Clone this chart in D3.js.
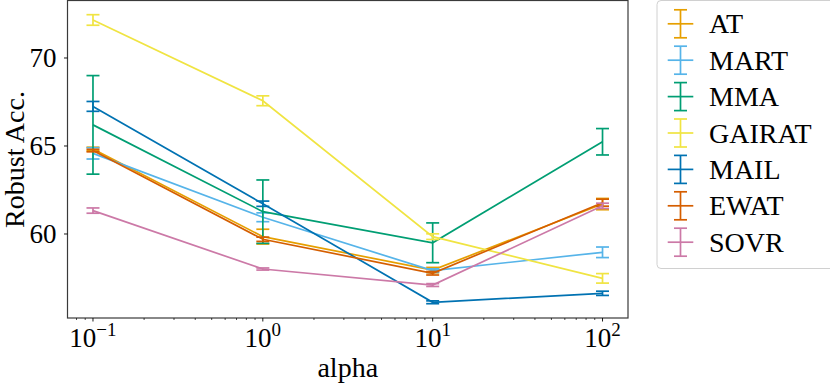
<!DOCTYPE html>
<html>
<head>
<meta charset="utf-8">
<script src="https://cdn.jsdelivr.net/npm/d3@7"></script>
<style>
  body { margin: 0; background: #fff; }
  text { font-family: "Liberation Serif", "DejaVu Serif", serif; fill: #000; }
</style>
</head>
<body>
<svg id="chart"></svg>
<script>
const alphas = [0.1, 1, 10, 100];
const methods = ["AT", "MART", "MMA", "GAIRAT", "MAIL", "EWAT", "SOVR"];
const colors = ["#E69F00", "#56B4E9", "#009E73", "#F0E442", "#0072B2", "#D55E00", "#CC79A7"];

const atMean = [64.83, 59.85, 57.95, 61.7];
const atErr = [0.1, 0.42, 0.15, 0.32];
const martMean = [64.58, 60.95, 57.92, 58.96];
const martErr = [0.32, 0.25, 0.1, 0.3];
const mmaMean = [66.2, 61.27, 59.5, 65.24];
const mmaErr = [2.8, 1.8, 1.13, 0.75];
const gairatMean = [72.16, 67.57, 59.85, 57.48];
const gairatErr = [0.3, 0.28, 0.16, 0.27];
const mailMean = [67.25, 61.72, 56.12, 56.63];
const mailErr = [0.28, 0.15, 0.08, 0.12];
const ewatMean = [64.74, 59.7, 57.77, 61.78];
const ewatErr = [0.07, 0.12, 0.1, 0.2];
const sovrMean = [61.33, 58.01, 57.1, 61.6];
const sovrErr = [0.15, 0.06, 0.08, 0.15];

const yTicks = [60, 65, 70];
const xTicks = [0.1, 1, 10, 100];

const means = [atMean, martMean, mmaMean, gairatMean, mailMean, ewatMean, sovrMean];
const errs = [atErr, martErr, mmaErr, gairatErr, mailErr, ewatErr, sovrErr];

const series = methods.map((m, i) => ({
  name: m,
  color: colors[i],
  points: alphas.map((a, j) => ({ a, v: means[i][j], e: errs[i][j] }))
}));

const width = 830, height = 386;
const plot = { left: 67.5, right: 628, top: 0.5, bottom: 318 };

const svg = d3.select("#chart").attr("width", width).attr("height", height);

const x = d3.scaleLog()
  .domain([Math.pow(10, -1.15), Math.pow(10, 2.15)])
  .range([plot.left, plot.right]);

const y = d3.scaleLinear()
  .domain([55.227, 73.295])
  .range([plot.bottom, 0]);

// series, drawn in legend order so later ones sit on top
const capW = 6.5;
series.forEach(s => {
  const g = svg.append("g");
  g.append("path")
    .datum(s.points)
    .attr("fill", "none")
    .attr("stroke", s.color)
    .attr("stroke-width", 1.7)
    .attr("d", d3.line().x(d => x(d.a)).y(d => y(d.v)));

  const eb = g.selectAll(".eb").data(s.points).join("g")
    .attr("stroke", s.color)
    .attr("stroke-width", 1.7);
  eb.append("line")
    .attr("x1", d => x(d.a)).attr("x2", d => x(d.a))
    .attr("y1", d => y(d.v - d.e)).attr("y2", d => y(d.v + d.e));
  eb.append("line")
    .attr("x1", d => x(d.a) - capW).attr("x2", d => x(d.a) + capW)
    .attr("y1", d => y(d.v - d.e)).attr("y2", d => y(d.v - d.e));
  eb.append("line")
    .attr("x1", d => x(d.a) - capW).attr("x2", d => x(d.a) + capW)
    .attr("y1", d => y(d.v + d.e)).attr("y2", d => y(d.v + d.e));
});

// frame
svg.append("rect")
  .attr("x", plot.left).attr("y", plot.top)
  .attr("width", plot.right - plot.left).attr("height", plot.bottom - plot.top)
  .attr("fill", "none").attr("stroke", "#3a3a3a").attr("stroke-width", 1.2);

// y axis ticks + labels
yTicks.forEach(t => {
  svg.append("line")
    .attr("x1", plot.left - 3.5).attr("x2", plot.left)
    .attr("y1", y(t)).attr("y2", y(t))
    .attr("stroke", "#000").attr("stroke-width", 0.9);
  svg.append("text")
    .attr("x", plot.left - 11).attr("y", y(t))
    .attr("dy", "0.34em")
    .attr("text-anchor", "end")
    .attr("font-size", 27)
    .text(t);
});

// x axis minor ticks (log 2..9)
const minors = [];
[-2, -1, 0, 1, 2].forEach(k => {
  for (let m = 2; m <= 9; m++) {
    const v = m * Math.pow(10, k);
    const px = x(v);
    if (px >= plot.left && px <= plot.right) minors.push(v);
  }
});
svg.selectAll(".minor").data(minors).join("line")
  .attr("x1", d => x(d)).attr("x2", d => x(d))
  .attr("y1", plot.bottom).attr("y2", plot.bottom + 2)
  .attr("stroke", "#000").attr("stroke-width", 0.7);

xTicks.forEach(t => {
  const px = x(t);
  svg.append("line")
    .attr("x1", px).attr("x2", px)
    .attr("y1", plot.bottom).attr("y2", plot.bottom + 3.5)
    .attr("stroke", "#000").attr("stroke-width", 0.9);
  const exp = Math.round(Math.log10(t));
  const txt = svg.append("text")
    .attr("x", px).attr("y", 347)
    .attr("text-anchor", "middle")
    .attr("font-size", 27);
  txt.append("tspan").text("10");
  txt.append("tspan")
    .attr("dy", -11)
    .attr("font-size", 19)
    .text(exp < 0 ? "\u2212" + Math.abs(exp) : exp);
});

// axis labels
svg.append("text")
  .attr("x", (plot.left + plot.right) / 2).attr("y", 377)
  .attr("text-anchor", "middle")
  .attr("font-size", 28)
  .text("alpha");

svg.append("text")
  .attr("transform", "translate(24,159.5) rotate(-90)")
  .attr("text-anchor", "middle")
  .attr("font-size", 28)
  .text("Robust Acc.");

// legend
const legend = svg.append("g");
legend.append("rect")
  .attr("x", 657).attr("y", 0.5)
  .attr("width", 190).attr("height", 268)
  .attr("rx", 4)
  .attr("fill", "#fff").attr("stroke", "#d0d0d0").attr("stroke-width", 1);

const items = legend.selectAll(".item").data(series).join("g")
  .attr("transform", (d, i) => `translate(0,${23.8 + i * 36.4})`);
items.append("line")
  .attr("x1", 667.7).attr("x2", 693.3)
  .attr("stroke", d => d.color).attr("stroke-width", 1.7);
items.append("line")
  .attr("x1", 680.5).attr("x2", 680.5).attr("y1", -14).attr("y2", 14)
  .attr("stroke", d => d.color).attr("stroke-width", 1.7);
items.append("line")
  .attr("x1", 674).attr("x2", 687).attr("y1", -14).attr("y2", -14)
  .attr("stroke", d => d.color).attr("stroke-width", 1.7);
items.append("line")
  .attr("x1", 674).attr("x2", 687).attr("y1", 14).attr("y2", 14)
  .attr("stroke", d => d.color).attr("stroke-width", 1.7);
items.append("text")
  .attr("x", 709).attr("y", 9.5)
  .attr("font-size", 28)
  .text(d => d.name);
</script>
</body>
</html>
